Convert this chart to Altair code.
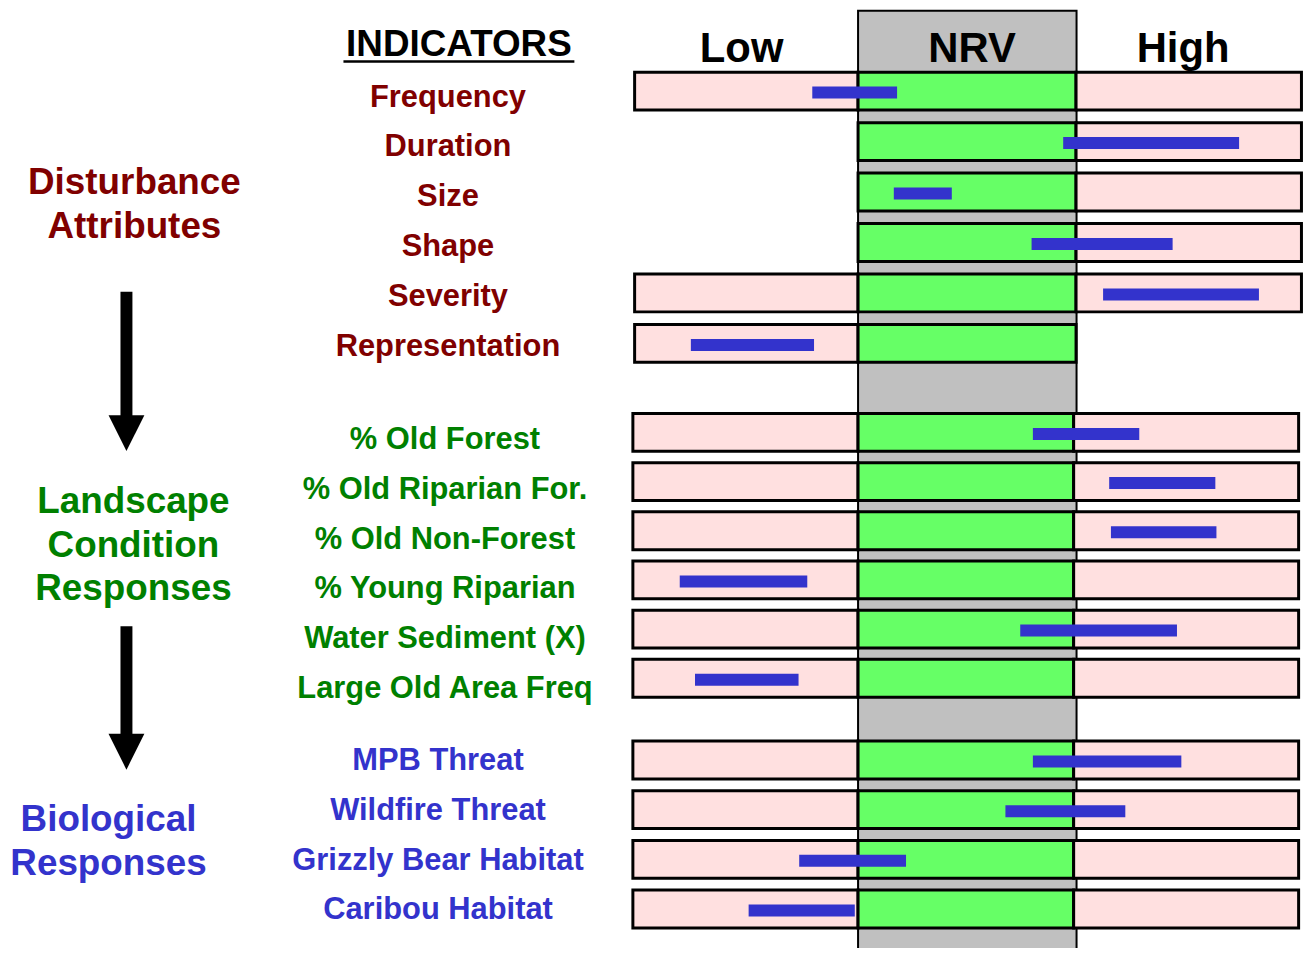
import altair as alt
import pandas as pd

# ---------------- data ----------------
indicators = [
    "Frequency", "Duration", "Size", "Shape", "Severity", "Representation",
    "% Old Forest", "% Old Riparian For.", "% Old Non-Forest", "% Young Riparian",
    "Water Sediment (X)", "Large Old Area Freq",
    "MPB Threat", "Wildfire Threat", "Grizzly Bear Habitat", "Caribou Habitat",
]
section = [0] * 6 + [1] * 6 + [2] * 4
has_low = [True, False, False, False, True, True] + [True] * 10
has_high = [True, True, True, True, True, False] + [True] * 10
# current-condition range, in % of the NRV band (0 = NRV low edge, 100 = NRV high edge)
bar_start = [-21.0, 94.1, 16.4, 79.6, 112.4, -76.7,
             80.2, 115.2, 116.0, -81.8, 74.4, -74.8,
             80.2, 67.6, -27.0, -50.2]
bar_end = [17.9, 174.8, 43.0, 144.3, 183.9, -20.2,
           129.0, 163.9, 164.4, -23.3, 146.3, -27.3,
           148.3, 122.6, 22.0, -1.5]

headers = ["Low", "NRV", "High"]
group_lines = [["Disturbance", "Attributes"],
               ["Landscape", "Condition", "Responses"],
               ["Biological", "Responses"]]
section_colors = ["#800000", "#008000", "#3333CC"]

# ---------------- layout ----------------
W, H = 1301, 940
PX0, PXU = 862.0, 2.19          # page x of NRV low edge, pixels per NRV unit


def v(px):
    return (px - PX0) / PXU


zone_edges = [  # low-start, nrv-start, nrv-end, high-end (NRV units)
    [-102.5, 0.0, 100.0, 203.4],
    [-103.3, 0.0, 98.9, 202.1],
    [-103.3, 0.0, 98.9, 202.1],
]
sec_first = [89.3, 432.2, 761.3]
sec_pitch = [50.7, 49.4, 49.9]
lab_first = [105.0, 449.0, 771.5]
lab_x = [450, 447, 440]

zones, bars, texts = [], [], []
pos = {0: 0, 1: 0, 2: 0}
for i, name in enumerate(indicators):
    s = section[i]
    k = pos[s]
    pos[s] += 1
    cy = sec_first[s] + sec_pitch[s] * k
    e = zone_edges[s]
    if has_low[i]:
        zones.append(dict(x=e[0], x2=e[1], y=cy - 19, y2=cy + 19, fill="#FFE0E0"))
    zones.append(dict(x=e[1], x2=e[2], y=cy - 19, y2=cy + 19, fill="#66FF66"))
    if has_high[i]:
        zones.append(dict(x=e[2], x2=e[3], y=cy - 19, y2=cy + 19, fill="#FFE0E0"))
    bars.append(dict(x=bar_start[i], x2=bar_end[i], y=cy - 4.5, y2=cy + 7.5))
    texts.append(dict(x=v(lab_x[s]), y=lab_first[s] + 50 * k, text=name,
                      color=section_colors[s], fs=31))

# headers
for t, px in zip(headers, [745, 976.5, 1188.5]):
    texts.append(dict(x=v(px), y=60, text=t, color="#000000", fs=42))
texts.append(dict(x=v(461), y=54.3, text="INDICATORS", color="#000000", fs=37))

# group labels
grp_x = [135, 134, 109]
grp_base = [[193, 237], [513, 557, 601], [833, 877]]
for s in range(3):
    for line, by in zip(group_lines[s], grp_base[s]):
        texts.append(dict(x=v(grp_x[s]), y=by, text=line,
                          color=section_colors[s], fs=37))

zones_df = pd.DataFrame(zones)
bars_df = pd.DataFrame(bars)
texts_df = pd.DataFrame(texts)
gray_df = pd.DataFrame([dict(x=0.0, x2=v(1081.5), y=8.5, y2=951.5)])
shaft_df = pd.DataFrame([
    dict(x=v(121), x2=v(133), y=291, y2=417),
    dict(x=v(121), x2=v(133), y=627, y2=737),
])
head_df = pd.DataFrame([dict(x=v(127), y=433), dict(x=v(127), y=753)])
ul_df = pd.DataFrame([dict(x=v(345), x2=v(577), y=59.5)])

xs = alt.Scale(domain=[v(8), v(8 + W)], nice=False, zero=False)
ys = alt.Scale(domain=[8, 8 + H], reverse=True, nice=False, zero=False)
X = lambda f="x": alt.X(f"{f}:Q", scale=xs, axis=None)
Y = lambda f="y": alt.Y(f"{f}:Q", scale=ys, axis=None)

gray = alt.Chart(gray_df).mark_rect(fill="#C0C0C0", stroke="#000000", strokeWidth=2).encode(
    x=X(), x2="x2:Q", y=Y(), y2="y2:Q")

zone_layer = alt.Chart(zones_df).mark_rect(stroke="#000000", strokeWidth=3).encode(
    x=X(), x2="x2:Q", y=Y(), y2="y2:Q",
    fill=alt.Fill("fill:N", scale=None))

bar_layer = alt.Chart(bars_df).mark_rect(fill="#3333CC").encode(
    x=X(), x2="x2:Q", y=Y(), y2="y2:Q")

text_layer = alt.Chart(texts_df).mark_text(
    font="Liberation Sans", fontWeight="bold", align="center", baseline="alphabetic").encode(
    x=X(), y=Y(), text="text:N",
    color=alt.Color("color:N", scale=None),
    size=alt.Size("fs:Q", scale=None))

underline = alt.Chart(ul_df).mark_rule(color="#000000", strokeWidth=2.6).encode(
    x=X(), x2="x2:Q", y=Y())

shafts = alt.Chart(shaft_df).mark_rect(fill="#000000").encode(
    x=X(), x2="x2:Q", y=Y(), y2="y2:Q")

heads = alt.Chart(head_df).mark_point(
    shape="M-1,-1L1,-1L0,1Z", size=1296, filled=True, fill="#000000",
    stroke=None, opacity=1).encode(x=X(), y=Y())

chart = alt.layer(gray, zone_layer, bar_layer, text_layer, underline, shafts, heads).properties(
    width=W, height=H, padding=0,
    autosize=alt.AutoSizeParams(type="none"),
).configure_view(stroke=None)

chart.save("out.html", embed_options={"renderer": "svg", "actions": False})
